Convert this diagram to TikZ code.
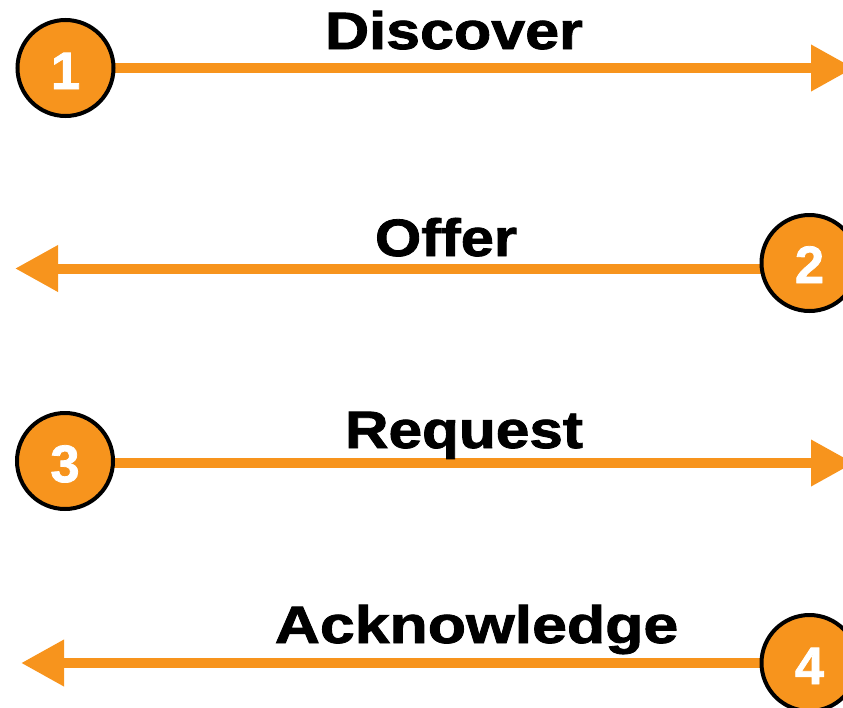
\documentclass[tikz,border=0pt]{standalone}
\usepackage{fontspec}
\setmainfont[BoldFeatures={FakeBold=1.5}]{Liberation Sans}
\usetikzlibrary{arrows.meta,backgrounds}
\definecolor{dhcporange}{HTML}{F7941D}
\tikzset{
  stepcircle/.style={circle, draw=black, line width=4pt, fill=dhcporange,
    minimum size=96pt, inner sep=0pt, outer sep=0pt},
  stepnum/.style={anchor=base, inner sep=0pt, text=white,
    font=\fontsize{52.6pt}{60pt}\selectfont\bfseries},
  msglabel/.style={anchor=base, inner sep=0pt, text=black,
    font=\fontsize{52.6pt}{60pt}\selectfont\bfseries},
  msgarrow/.style={draw=dhcporange, line width=10pt,
    -{Triangle[length=43pt,width=44pt]}},
}
\begin{document}
\begin{tikzpicture}[x=1pt,y=-1pt]
  \useasboundingbox (0,0) rectangle (843,707);

  % step circles
  \node[stepcircle] (c1) at (65.5,68) {};
  \node[stepcircle] (c2) at (809.5,263) {};
  \node[stepcircle] (c3) at (65,461) {};
  \node[stepcircle] (c4) at (809.5,663) {};

  \node[stepnum] (n1) at (65.5,89) {1};
  \node[stepnum] (n2) at (809.5,283) {2};
  \node[stepnum] (n3) at (65,482) {3};
  \node[stepnum] (n4) at (809.5,684) {4};

  % free ends of the message arrows
  \coordinate (e1) at (854,68);
  \coordinate (e2) at (15,268.5);
  \coordinate (e3) at (854,463);
  \coordinate (e4) at (21,663);

  \begin{scope}[on background layer]
    \draw[msgarrow] (c1.east) -- (e1);
    \draw[msgarrow] ([yshift=-5.5pt]c2.west) -- (e2);
    \draw[msgarrow] ([yshift=-2pt]c3.east) -- (e3);
    \draw[msgarrow] (c4.west) -- (e4);
  \end{scope}

  % message names
  \node[msglabel] (t1) at (454,49) {\scalebox{1.16}[1]{Discover}};
  \node[msglabel] (t2) at (446,256) {\scalebox{1.13}[1]{Offer}};
  \node[msglabel] (t3) at (464,448) {\scalebox{1.147}[1]{Request}};
  \node[msglabel] (t4) at (476.5,643) {\scalebox{1.19}[1]{Acknowledge}};
\end{tikzpicture}
\end{document}
